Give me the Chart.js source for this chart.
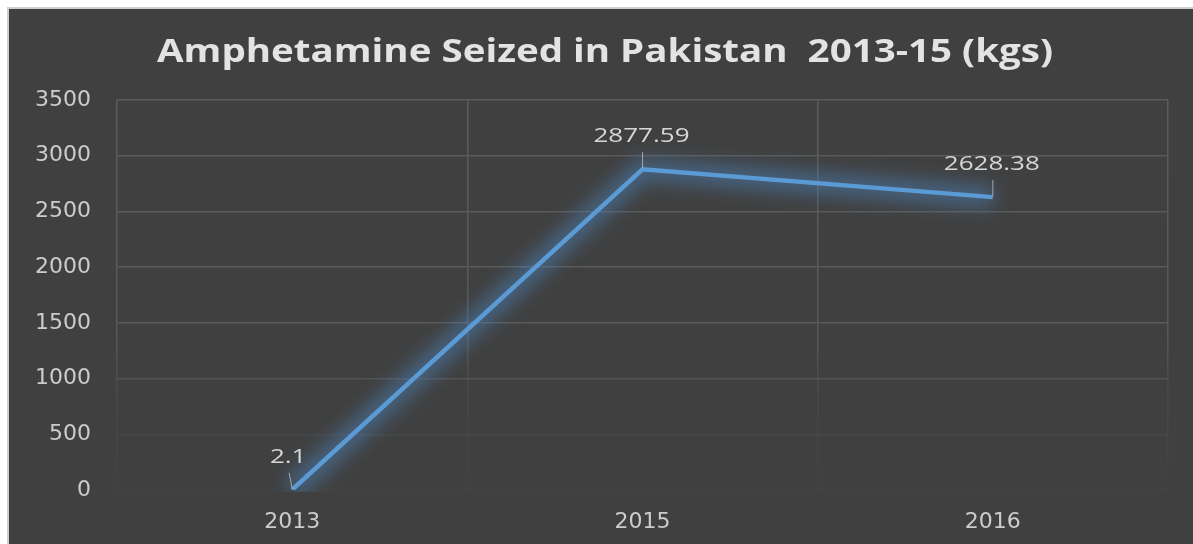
<!DOCTYPE html>
<html>
<head>
    <meta charset="UTF-8">
    <title>Amphetamine Seized in Pakistan</title>
    <script src="https://cdn.jsdelivr.net/npm/chart.js"></script>
    <style>
        html, body { margin: 0; padding: 0; background: #ffffff; }
        #box {
            position: absolute; left: 7px; top: 7px;
            width: 1184px; height: 535px;
            border-left: 2px solid #cfcfcf; border-top: 2px solid #cfcfcf;
            background: #404040;
        }
    </style>
</head>
<body>
    <div id="box"><canvas id="myChart" width="1184" height="535"></canvas></div>
    <script>
        const chartTitle = 'Amphetamine Seized in Pakistan  2013-15 (kgs)';
        const years = ['2013', '2015', '2016'];
        const seized = [2.1, 2877.59, 2628.38];
        const yTicks = [0, 500, 1000, 1500, 2000, 2500, 3000, 3500];

        const ctx = document.getElementById('myChart').getContext('2d');

        // soft blue halo under the line (office "glow" effect)
        const glow = {
            id: 'glow',
            beforeDatasetsDraw(chart) {
                const c = chart.ctx;
                const a = chart.chartArea;
                const pts = chart.getDatasetMeta(0).data;
                c.save();
                c.beginPath();
                c.rect(a.left, a.top - 20, a.right - a.left, a.bottom - a.top + 22);
                c.clip();
                c.filter = 'blur(9px)';
                c.strokeStyle = 'rgba(75, 135, 195, 0.5)';
                c.lineWidth = 22;
                c.lineJoin = 'round';
                c.beginPath();
                pts.forEach((p, i) => i ? c.lineTo(p.x, p.y) : c.moveTo(p.x, p.y));
                c.stroke();
                c.restore();
            }
        };

        // stretched text, the original fonts are wider than ours
        function wideText(c, text, x, y, sx) {
            c.save();
            c.translate(x, y);
            c.scale(sx, 1);
            c.fillText(text, 0, 0);
            c.restore();
        }

        // title + value labels with small leader lines
        const labels = {
            id: 'labels',
            afterDraw(chart) {
                const c = chart.ctx;
                c.save();
                c.fillStyle = '#e3e3e3';
                c.font = 'bold 32px "Open Sans"';
                c.textAlign = 'center';
                c.textBaseline = 'alphabetic';
                wideText(c, chartTitle, 596, 53, 896 / c.measureText(chartTitle).width);

                const pts = chart.getDatasetMeta(0).data;
                c.font = '20px "Open Sans"';
                c.fillStyle = '#d6d6d6';
                c.strokeStyle = '#a6a6a6';
                c.lineWidth = 1;
                pts.forEach((p, i) => {
                    const dx = i === 0 ? -3 : 0;
                    c.beginPath();
                    c.moveTo(p.x, p.y - 1);
                    c.lineTo(p.x + dx, p.y - 17);
                    c.stroke();
                    wideText(c, String(seized[i]), p.x + dx - 1, p.y - 27, 1.3);
                });
                c.restore();
            }
        };

        function fadeGradient(chart) {
            const area = chart.chartArea;
            if (!area) return '#5a5a5a';
            const g = chart.ctx.createLinearGradient(0, area.top, 0, area.bottom);
            g.addColorStop(0, '#5c5c5c');
            g.addColorStop(0.6, '#585858');
            g.addColorStop(0.75, '#484848');
            g.addColorStop(1, '#414141');
            return g;
        }

        const chart = new Chart(ctx, {
            type: 'line',
            data: {
                labels: years,
                datasets: [{
                    data: seized,
                    borderColor: '#5b9bd5',
                    borderWidth: 4.5,
                    pointRadius: 0,
                    tension: 0,
                    fill: false
                }]
            },
            options: {
                responsive: false,
                animation: false,
                events: [],
                layout: { padding: { top: 91, right: 25, left: 0, bottom: 0 } },
                plugins: {
                    legend: { display: false },
                    title: { display: false },
                    tooltip: { enabled: false }
                },
                scales: {
                    x: {
                        offset: true,
                        grid: {
                            offset: true,
                            drawTicks: false,
                            lineWidth: 1.5,
                            color: (c) => fadeGradient(c.chart)
                        },
                        border: { display: false },
                        ticks: {
                            color: '#cccccc',
                            padding: 19,
                            font: { family: 'DejaVu Sans', size: 22 }
                        },
                        afterFit(scale) { scale.height = 54; }
                    },
                    y: {
                        min: 0,
                        max: 3500,
                        afterBuildTicks(scale) {
                            scale.ticks = yTicks.map(v => ({ value: v }));
                        },
                        grid: {
                            drawTicks: false,
                            lineWidth: 1.5,
                            color: (c) => {
                                const v = c.tick ? c.tick.value : 3500;
                                if (v >= 1500) return '#5a5a5a';
                                if (v >= 1000) return '#525252';
                                if (v >= 500) return '#494949';
                                return '#434343';
                            }
                        },
                        border: { display: false },
                        ticks: {
                            color: '#cccccc',
                            padding: 26,
                            font: { family: 'DejaVu Sans', size: 22 },
                            callback: (v) => String(v)
                        },
                        afterFit(scale) { scale.width = 108; }
                    }
                }
            },
            plugins: [glow, labels]
        });
    </script>
</body>
</html>
